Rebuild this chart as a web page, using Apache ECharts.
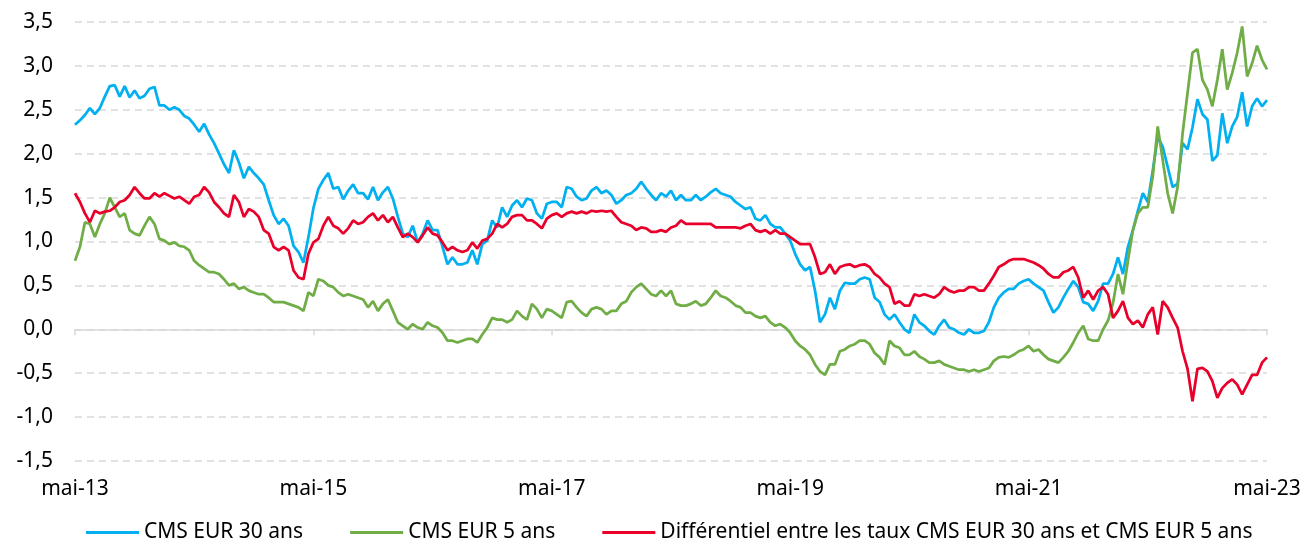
<!DOCTYPE html>
<html>
<head>
<meta charset="utf-8">
<script src="https://cdn.jsdelivr.net/npm/echarts@6/dist/echarts.min.js"></script>
<style>
  html, body { margin: 0; padding: 0; background: #fff; }
  #chart { width: 1304px; height: 545px; }
</style>
</head>
<body>
<div id="chart"></div>
<script>
// x = months since mai-13, one point every half month (0 .. 120)
const xLabels = ['mai-13', 'mai-15', 'mai-17', 'mai-19', 'mai-21', 'mai-23'];
const seriesNames = ['CMS EUR 30 ans', 'CMS EUR 5 ans', 'Différentiel entre les taux CMS EUR 30 ans et CMS EUR 5 ans'];

// CMS EUR 30 ans
const cms30 = [
  // m 0 - 29.5
  2.33,2.38,2.44,2.52,2.45,2.52,2.65,2.77,2.78,2.65,
  2.77,2.64,2.72,2.63,2.66,2.74,2.76,2.55,2.55,2.50,
  2.53,2.50,2.43,2.40,2.33,2.25,2.34,2.22,2.12,2.00,
  1.88,1.78,2.04,1.90,1.72,1.85,1.78,1.72,1.65,1.47,
  1.30,1.20,1.26,1.18,0.95,0.88,0.76,1.05,1.38,1.60,
  1.70,1.78,1.60,1.62,1.48,1.58,1.65,1.55,1.55,1.48,
  // m 30 - 59
  1.62,1.47,1.56,1.62,1.49,1.28,1.09,1.05,1.18,0.99,
  1.09,1.24,1.13,1.13,0.94,0.74,0.82,0.74,0.74,0.76,
  0.90,0.74,0.97,1.01,1.24,1.16,1.39,1.28,1.41,1.47,
  1.39,1.49,1.47,1.32,1.26,1.43,1.45,1.45,1.39,1.62,
  1.60,1.51,1.47,1.49,1.58,1.62,1.55,1.58,1.53,1.43,
  1.47,1.53,1.55,1.60,1.68,1.60,1.53,1.47,1.55,
  // m 59.5 - 89
  1.51,1.58,1.47,1.53,1.47,1.47,1.53,1.47,1.51,1.56,
  1.60,1.55,1.53,1.51,1.45,1.41,1.37,1.39,1.26,1.24,
  1.30,1.20,1.16,1.16,1.09,1.01,0.86,0.74,0.67,0.71,
  0.44,0.08,0.17,0.36,0.23,0.44,0.53,0.52,0.52,0.57,
  0.59,0.57,0.36,0.31,0.17,0.11,0.17,0.08,0.00,-0.04,
  0.17,0.08,0.04,-0.02,-0.06,0.04,0.11,0.02,0.00,-0.04,
  // m 89.5 - 120
  -0.06,0.00,-0.04,-0.04,-0.02,0.08,0.25,0.36,0.42,0.46,
  0.46,0.52,0.55,0.57,0.52,0.48,0.44,0.31,0.19,0.25,
  0.36,0.46,0.55,0.48,0.31,0.29,0.21,0.32,0.52,0.52,
  0.63,0.82,0.63,0.94,1.13,1.35,1.55,1.45,1.81,2.19,
  2.08,1.85,1.62,1.66,2.12,2.05,2.30,2.62,2.45,2.39,
  1.92,1.98,2.46,2.12,2.31,2.42,2.70,2.31,2.54,2.63,
  2.54,2.61
];

// CMS EUR 5 ans
const cms5 = [
  // m 0 - 29.5
  0.78,0.94,1.22,1.20,1.05,1.20,1.32,1.50,1.39,1.28,
  1.32,1.13,1.09,1.07,1.18,1.28,1.20,1.03,1.01,0.97,
  0.99,0.95,0.94,0.90,0.78,0.73,0.69,0.65,0.65,0.63,
  0.57,0.50,0.52,0.46,0.48,0.44,0.42,0.40,0.40,0.36,
  0.31,0.31,0.31,0.29,0.27,0.25,0.21,0.42,0.38,0.57,
  0.55,0.50,0.48,0.42,0.38,0.40,0.38,0.36,0.34,0.25,
  // m 30 - 59
  0.32,0.21,0.29,0.34,0.21,0.08,0.04,0.00,0.06,0.02,
  0.00,0.08,0.04,0.02,-0.04,-0.13,-0.13,-0.15,-0.13,-0.11,
  -0.11,-0.15,-0.06,0.02,0.13,0.11,0.11,0.08,0.11,0.21,
  0.15,0.11,0.29,0.23,0.13,0.23,0.21,0.17,0.13,0.31,
  0.32,0.25,0.19,0.15,0.23,0.25,0.23,0.17,0.21,0.21,
  0.29,0.32,0.42,0.48,0.52,0.46,0.40,0.38,0.44,
  // m 59.5 - 89
  0.38,0.44,0.29,0.27,0.27,0.29,0.32,0.27,0.29,0.36,
  0.44,0.38,0.36,0.32,0.27,0.25,0.19,0.19,0.15,0.13,
  0.15,0.08,0.04,0.06,0.02,-0.04,-0.13,-0.19,-0.23,-0.29,
  -0.40,-0.48,-0.52,-0.40,-0.40,-0.25,-0.23,-0.19,-0.17,-0.13,
  -0.13,-0.17,-0.27,-0.32,-0.40,-0.13,-0.19,-0.21,-0.29,-0.29,
  -0.25,-0.31,-0.34,-0.38,-0.38,-0.36,-0.40,-0.42,-0.44,-0.46,
  // m 89.5 - 120
  -0.46,-0.48,-0.46,-0.48,-0.46,-0.44,-0.36,-0.32,-0.31,-0.32,
  -0.29,-0.25,-0.23,-0.19,-0.25,-0.23,-0.29,-0.34,-0.36,-0.38,
  -0.32,-0.25,-0.15,-0.04,0.04,-0.11,-0.13,-0.13,0.00,0.10,
  0.30,0.63,0.40,0.78,1.13,1.32,1.39,1.39,1.74,2.31,
  1.93,1.55,1.32,1.62,2.23,2.69,3.15,3.19,2.84,2.73,
  2.54,2.84,3.19,2.73,2.92,3.15,3.45,2.88,3.03,3.23,
  3.07,2.96
];

// Différentiel 30 ans - 5 ans
const spread = [
  // m 0 - 29.5
  1.55,1.45,1.32,1.22,1.35,1.32,1.34,1.35,1.39,1.45,
  1.47,1.53,1.62,1.55,1.49,1.49,1.55,1.51,1.55,1.52,
  1.49,1.51,1.47,1.43,1.51,1.53,1.62,1.56,1.45,1.39,
  1.32,1.28,1.53,1.45,1.28,1.37,1.34,1.28,1.13,1.09,
  0.94,0.90,0.94,0.90,0.67,0.59,0.57,0.86,0.99,1.03,
  1.18,1.28,1.18,1.15,1.09,1.15,1.24,1.20,1.22,1.28,
  // m 30 - 59
  1.32,1.24,1.30,1.22,1.28,1.16,1.05,1.09,1.05,0.99,
  1.07,1.16,1.09,1.07,0.99,0.90,0.94,0.90,0.88,0.90,
  0.99,0.92,1.01,1.03,1.09,1.20,1.16,1.20,1.28,1.30,
  1.30,1.24,1.24,1.20,1.15,1.26,1.30,1.32,1.28,1.32,
  1.34,1.32,1.34,1.32,1.35,1.34,1.35,1.34,1.35,1.28,
  1.22,1.20,1.18,1.13,1.16,1.15,1.11,1.11,1.13,
  // m 59.5 - 89
  1.11,1.16,1.18,1.24,1.20,1.20,1.20,1.20,1.20,1.20,
  1.16,1.16,1.16,1.16,1.16,1.15,1.18,1.20,1.13,1.11,
  1.13,1.09,1.13,1.09,1.09,1.05,1.01,0.97,0.97,0.97,
  0.82,0.63,0.65,0.74,0.63,0.71,0.73,0.74,0.71,0.73,
  0.74,0.71,0.63,0.59,0.52,0.48,0.29,0.32,0.27,0.27,
  0.40,0.38,0.40,0.38,0.36,0.40,0.48,0.44,0.42,0.44,
  // m 89.5 - 120
  0.44,0.48,0.48,0.44,0.44,0.52,0.61,0.71,0.74,0.78,
  0.80,0.80,0.80,0.78,0.76,0.73,0.69,0.63,0.59,0.59,
  0.65,0.67,0.71,0.59,0.36,0.44,0.34,0.44,0.48,0.40,
  0.13,0.21,0.32,0.13,0.06,0.10,0.02,0.17,0.25,-0.06,
  0.32,0.25,0.13,0.02,-0.25,-0.45,-0.82,-0.45,-0.44,-0.48,
  -0.59,-0.78,-0.67,-0.61,-0.57,-0.63,-0.74,-0.63,-0.52,-0.52,
  -0.38,-0.32
];

const colors = ['#00B0F0', '#70AD47', '#E8002B'];
const FONT = 'Noto Sans';

function toPairs(arr) {
  return arr.map((v, i) => [i * 0.5, v]);
}
const comma = v => v.toFixed(1).replace('.', ',');

const chart = echarts.init(document.getElementById('chart'));
chart.setOption({
  animation: false,
  textStyle: { fontFamily: FONT },
  grid: { left: 75, right: 37, top: 22, bottom: 84, outerBoundsMode: 'none' },
  legend: {
    left: 81,
    top: 517,
    icon: 'rect',
    itemWidth: 53,
    itemHeight: 3,
    itemGap: 47,
    textStyle: { fontFamily: FONT, fontSize: 21, color: '#000' },
    data: seriesNames
  },
  xAxis: [
    {
      // axis line through 0 with tick marks
      type: 'value',
      min: 0,
      max: 120,
      interval: 24,
      axisLine: { onZero: true, lineStyle: { color: '#d9d9d9', width: 1.5 } },
      axisTick: { show: true, length: 6, lineStyle: { color: '#d9d9d9', width: 1.5 } },
      axisLabel: { show: false },
      splitLine: { show: false }
    },
    {
      // labels at the bottom of the plot
      type: 'value',
      position: 'bottom',
      min: 0,
      max: 120,
      interval: 24,
      axisLine: { show: false, onZero: false },
      axisTick: { show: false },
      axisLabel: {
        margin: 18,
        fontFamily: FONT,
        fontSize: 21,
        color: '#000',
        formatter: v => xLabels[Math.round(v / 24)]
      },
      splitLine: { show: false }
    }
  ],
  yAxis: {
    type: 'value',
    min: -1.5,
    max: 3.5,
    interval: 0.5,
    axisLine: { show: false },
    axisTick: { show: false },
    axisLabel: {
      margin: 22,
      fontFamily: FONT,
      fontSize: 21,
      color: '#000',
      formatter: comma
    },
    splitLine: { lineStyle: { color: '#d9d9d9', width: 1.5, type: [7, 5] } }
  },
  series: [cms30, cms5, spread].map((arr, k) => ({
    name: seriesNames[k],
    type: 'line',
    xAxisIndex: 0,
    data: toPairs(arr),
    showSymbol: false,
    symbol: 'none',
    lineStyle: { color: colors[k], width: 2.75 },
    itemStyle: { color: colors[k] },
    z: 2 + k
  }))
});
</script>
</body>
</html>
